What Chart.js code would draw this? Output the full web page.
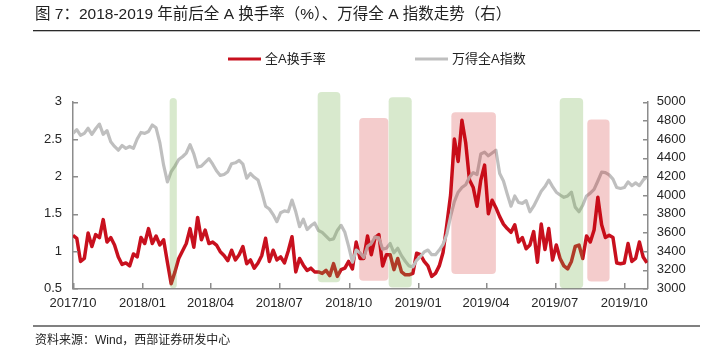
<!DOCTYPE html>
<html>
<head>
<meta charset="utf-8">
<script src="https://cdn.jsdelivr.net/npm/chart.js@4.4.0/dist/chart.umd.min.js"></script>
<style>
  html, body { margin: 0; padding: 0; background: #fff; }
  #wrap { width: 714px; height: 354px; }
</style>
</head>
<body>
<div id="wrap"><canvas id="turnoverChart" width="714" height="354"></canvas></div>
<script>
// values, one every 5 calendar days from 2017-10-01 (day 0)
const stepDays = 5;

// 全A换手率 (%), left axis
const turnover = [
  1.21, 1.17, 0.86, 0.90, 1.24, 1.06, 1.22, 1.18, 1.42, 1.12,
  1.18, 1.08, 0.92, 0.82, 0.84, 0.80, 0.96, 0.92, 1.18, 1.10,
  1.30, 1.10, 1.20, 1.08, 1.15, 0.85, 0.56, 0.72, 0.90, 1.00,
  1.10, 1.30, 1.05, 1.45, 1.15, 1.28, 1.10, 1.12, 1.08, 0.99,
  0.94, 0.87, 1.01, 0.88, 0.95, 1.06, 0.83, 0.88, 0.77, 0.84,
  0.94, 1.17, 0.86, 1.01, 0.88, 0.92, 0.84, 1.00, 1.19, 0.72,
  0.90, 0.81, 0.74, 0.77, 0.72, 0.72, 0.70, 0.74, 0.67, 0.83,
  0.66, 0.75, 0.77, 0.86, 0.76, 1.12, 0.90, 0.90, 1.20, 0.95,
  1.18, 1.22, 0.80, 0.95, 0.95, 0.75, 0.90, 0.72, 0.68, 0.68,
  0.70, 0.97, 0.95, 0.86, 0.80, 0.66, 0.70, 0.80, 0.98, 1.35,
  1.75, 2.50, 2.20, 2.75, 2.45, 1.95, 1.85, 1.60, 1.95, 2.15,
  1.50, 1.68, 1.58, 1.46, 1.36, 1.30, 1.25, 1.35, 1.12, 1.18,
  1.03, 1.08, 1.26, 0.85, 1.36, 1.02, 1.30, 0.88, 1.08, 0.90,
  0.80, 0.76, 0.86, 1.06, 1.08, 0.90, 1.20, 1.12, 1.28, 1.72,
  1.35, 1.18, 1.21, 1.18, 0.84, 0.83, 0.84, 1.10, 0.86, 0.90,
  1.12, 0.92, 0.84
];

// 万得全A指数, right axis
const windA = [
  4660, 4700, 4640, 4660, 4715, 4650, 4710, 4760, 4650, 4690,
  4570, 4520, 4480, 4530, 4500, 4520, 4500, 4600, 4670, 4660,
  4680, 4750, 4720, 4560, 4320, 4140, 4250, 4310, 4380, 4410,
  4450, 4540, 4440, 4300, 4310, 4350, 4390, 4330, 4260, 4210,
  4220, 4250, 4335, 4345, 4370, 4330, 4180, 4230, 4190, 4160,
  4030, 3880, 3850, 3790, 3714, 3810, 3830, 3820, 3946, 3820,
  3660, 3740, 3630, 3670, 3700, 3620, 3600, 3560, 3520, 3530,
  3620, 3675, 3600, 3450, 3280, 3410, 3380, 3330, 3450, 3480,
  3550, 3540, 3420, 3430, 3480, 3380, 3430, 3350, 3290, 3240,
  3230, 3300, 3340, 3390, 3410, 3360, 3360, 3410, 3470, 3580,
  3770, 3930, 4030, 4080, 4110, 4190, 4240, 4220, 4440, 4460,
  4420, 4450, 4480, 4230, 4150, 4010, 3880, 3990, 3920, 3910,
  3940, 3820, 3880, 3960, 4040, 4090, 4160, 4090, 4030, 4000,
  3975, 3990, 4030, 3870, 3820, 3890, 3990, 4020, 4060, 4150,
  4245, 4240, 4215, 4170, 4080, 4070, 4080, 4140, 4100, 4130,
  4100, 4160, 4195
];

// x axis ticks (days since 2017-10-01) and their labels
const tickDays = [0, 92, 182, 273, 365, 457, 547, 638, 730];
const tickLabels = ["2017/10", "2018/01", "2018/04", "2018/07", "2018/10",
                    "2019/01", "2019/04", "2019/07", "2019/10"];
const lastDay = 761; // 2019-11-01

// highlighted periods: days since 2017-10-01, vertical extent in left-axis units
const shadedPeriods = [
  { from: 128, to: 137.5, top: 3.05, bottom: 0.50, kind: "green" },
  { from: 324, to: 354, top: 3.13, bottom: 0.58, kind: "green" },
  { from: 379, to: 417.5, top: 2.78, bottom: 0.60, kind: "red" },
  { from: 418, to: 448.5, top: 3.06, bottom: 0.51, kind: "green" },
  { from: 501, to: 560, top: 2.86, bottom: 0.69, kind: "red" },
  { from: 644.5, to: 675.5, top: 3.05, bottom: 0.50, kind: "green" },
  { from: 681, to: 710.5, top: 2.76, bottom: 0.59, kind: "red" }
];

const FONT = '"Liberation Sans", "Noto Sans CJK SC", Arial, sans-serif';
const RED = "#C8101E";
const GREY = "#BFBFBF";
const AXIS = "#8C8C8C";

Chart.defaults.font.family = FONT;
Chart.defaults.color = "#262626";

const toPoints = (arr) => arr.map((v, i) => ({ x: i * stepDays, y: v }));

const shadePlugin = {
  id: "shade",
  afterDatasetsDraw(chart) {
    const { ctx, scales } = chart;
    ctx.save();
    shadedPeriods.forEach((p) => {
      const x0 = scales.x.getPixelForValue(p.from);
      const x1 = scales.x.getPixelForValue(p.to);
      const y0 = scales.y.getPixelForValue(p.top);
      const y1 = scales.y.getPixelForValue(p.bottom);
      ctx.fillStyle = p.kind === "green" ? "rgba(112,173,71,0.27)" : "rgba(200,0,0,0.2)";
      ctx.beginPath();
      ctx.roundRect(x0, y0, x1 - x0, y1 - y0, 4);
      ctx.fill();
    });
    ctx.restore();
  }
};

const decorPlugin = {
  id: "decor",
  afterDraw(chart) {
    const { ctx, scales } = chart;
    const { x, y, y2 } = scales;
    ctx.save();

    // inward tick marks
    ctx.fillStyle = AXIS;
    y.ticks.forEach((t) => {
      const py = Math.round(y.getPixelForValue(t.value));
      ctx.fillRect(Math.round(y.right), py, 5, 1.5);
    });
    y2.ticks.forEach((t) => {
      const py = Math.round(y2.getPixelForValue(t.value));
      ctx.fillRect(Math.round(y2.left) - 5, py, 5, 1.5);
    });
    x.ticks.forEach((t) => {
      const px = Math.round(x.getPixelForValue(t.value));
      ctx.fillRect(px, Math.round(x.top) - 5, 1.5, 5);
    });

    // title and its rule
    ctx.fillStyle = "#222";
    ctx.font = "15.5px " + FONT;
    ctx.textBaseline = "middle";
    ctx.textAlign = "left";
    ctx.fillText("图 7：2018-2019 年前后全 A 换手率（%）、万得全 A 指数走势（右）", 35, 15);
    ctx.fillStyle = "#2A2A2A";
    ctx.fillRect(33, 30, 667, 1.3);

    // legend
    ctx.font = "13px " + FONT;
    ctx.fillStyle = RED;
    ctx.fillRect(228, 57.5, 33, 3);
    ctx.fillStyle = "#222";
    ctx.fillText("全A换手率", 265, 59);
    ctx.fillStyle = GREY;
    ctx.fillRect(415, 57.5, 33, 3);
    ctx.fillStyle = "#222";
    ctx.fillText("万得全A指数", 452, 59);

    // source rule and text
    ctx.fillStyle = "#808080";
    ctx.fillRect(33, 325, 667, 2);
    ctx.font = "12px " + FONT;
    ctx.fillStyle = "#222";
    ctx.fillText("资料来源：Wind，西部证券研发中心", 35, 341);
    ctx.restore();
  }
};

const ctx = document.getElementById("turnoverChart").getContext("2d");
const turnoverChart = new Chart(ctx, {
  type: "line",
  data: {
    datasets: [
      {
        label: "全A换手率",
        data: toPoints(turnover),
        borderColor: RED,
        borderWidth: 3.5,
        yAxisID: "y",
        order: 1
      },
      {
        label: "万得全A指数",
        data: toPoints(windA),
        borderColor: GREY,
        borderWidth: 3.2,
        yAxisID: "y2",
        order: 0
      }
    ]
  },
  options: {
    responsive: false,
    animation: false,
    devicePixelRatio: 1,
    elements: {
      point: { radius: 0 },
      line: { tension: 0, borderJoinStyle: "round" }
    },
    layout: { padding: { top: 101.7, bottom: 35.7, left: 0, right: 0 } },
    plugins: {
      legend: { display: false },
      tooltip: { enabled: false }
    },
    scales: {
      x: {
        type: "linear",
        min: 0,
        max: lastDay,
        grid: { display: false, drawTicks: false },
        border: { display: true, color: AXIS, width: 1.5 },
        afterBuildTicks: (scale) => {
          scale.ticks = tickDays.map((d) => ({ value: d }));
        },
        afterFit: (scale) => { scale.height = 30; },
        ticks: {
          autoSkip: false,
          maxRotation: 0,
          padding: 7,
          font: { size: 13 },
          callback: (v) => tickLabels[tickDays.indexOf(v)]
        }
      },
      y: {
        position: "left",
        min: 0.5,
        max: 3,
        grid: { display: false, drawTicks: false },
        border: { display: true, color: AXIS, width: 1.5 },
        afterFit: (scale) => { scale.width = 73; },
        ticks: {
          stepSize: 0.5,
          padding: 11,
          font: { size: 13 },
          callback: (v) => String(v)
        }
      },
      y2: {
        position: "right",
        min: 3000,
        max: 5000,
        grid: { display: false, drawTicks: false },
        border: { display: true, color: AXIS, width: 1.5 },
        afterFit: (scale) => { scale.width = 66.3; },
        ticks: {
          stepSize: 200,
          padding: 9,
          font: { size: 13 },
          callback: (v) => String(v)
        }
      }
    }
  },
  plugins: [shadePlugin, decorPlugin]
});
</script>
</body>
</html>
